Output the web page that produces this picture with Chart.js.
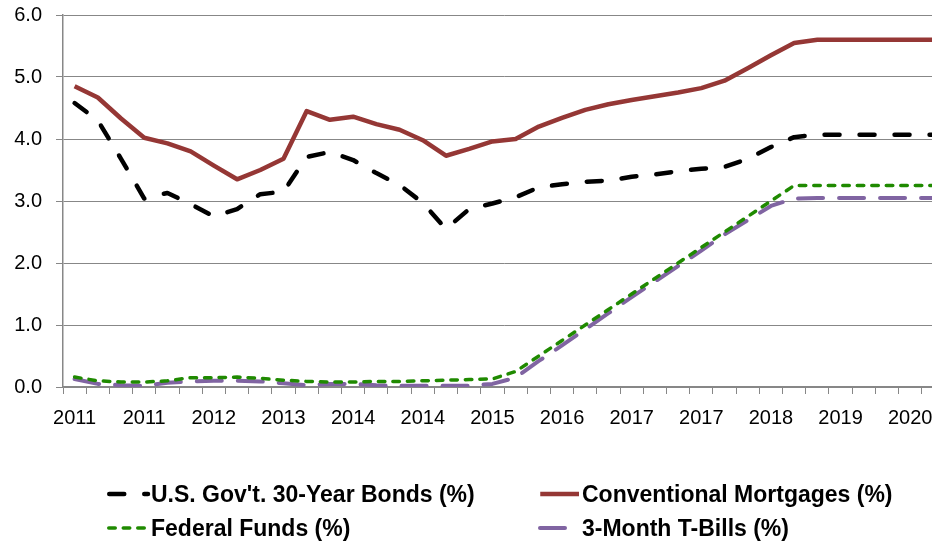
<!DOCTYPE html>
<html lang="en">
  <head>
    <meta charset="UTF-8" />
    <title>Interest Rate Outlook</title>
    <script src="https://cdn.jsdelivr.net/npm/chart.js"></script>
    <style>
      body {
        margin: 0;
        background: #fff;
      }
      .wrap {
        width: 932px;
        height: 546px;
        overflow: hidden;
      }
      canvas {
        display: block;
      }
    </style>
  </head>

  <body>
    <div class="wrap">
      <canvas id="ratesChart" width="946" height="546"></canvas>
    </div>
    <script>
      // one entry per quarter, 2011 Q1 .. 2020 Q2
      const quarters = [
        "2011", "2011", "2011", "2011",
        "2012", "2012", "2012", "2012",
        "2013", "2013", "2013", "2013",
        "2014", "2014", "2014", "2014",
        "2015", "2015", "2015", "2015",
        "2016", "2016", "2016", "2016",
        "2017", "2017", "2017", "2017",
        "2018", "2018", "2018", "2018",
        "2019", "2019", "2019", "2019",
        "2020", "2020",
      ];

      const bonds30y = [
        4.58, 4.30, 3.68, 3.04, 3.13, 2.95, 2.75, 2.87, 3.11, 3.15,
        3.71, 3.79, 3.66, 3.45, 3.26, 2.97, 2.55, 2.87, 2.96, 3.06,
        3.22, 3.27, 3.31, 3.33, 3.39, 3.43, 3.48, 3.52, 3.55, 3.68,
        3.87, 4.03, 4.07, 4.07, 4.07, 4.07, 4.07, 4.07,
      ];
      const mortgages = [
        4.85, 4.67, 4.33, 4.02, 3.93, 3.80, 3.57, 3.35, 3.50, 3.68,
        4.45, 4.31, 4.36, 4.24, 4.15, 3.98, 3.73, 3.84, 3.96, 4.00,
        4.20, 4.34, 4.47, 4.56, 4.63, 4.69, 4.75, 4.82, 4.94, 5.14,
        5.35, 5.55, 5.60, 5.60, 5.60, 5.60, 5.60, 5.60,
      ];
      const fedFunds = [
        0.16, 0.10, 0.08, 0.08, 0.10, 0.15, 0.15, 0.16, 0.14, 0.11,
        0.09, 0.08, 0.08, 0.09, 0.09, 0.10, 0.11, 0.12, 0.13, 0.25,
        0.50, 0.75, 1.00, 1.25, 1.50, 1.75, 2.00, 2.25, 2.50, 2.75,
        3.00, 3.25, 3.25, 3.25, 3.25, 3.25, 3.25, 3.25,
      ];
      const tBills3m = [
        0.13, 0.05, 0.03, 0.02, 0.07, 0.09, 0.10, 0.10, 0.09, 0.06,
        0.03, 0.05, 0.05, 0.03, 0.02, 0.02, 0.02, 0.02, 0.05, 0.15,
        0.42, 0.67, 0.93, 1.19, 1.45, 1.70, 1.95, 2.20, 2.46, 2.69,
        2.92, 3.04, 3.05, 3.05, 3.05, 3.05, 3.05, 3.05,
      ];

      const FONT = "'Liberation Sans', Arial, sans-serif";
      const AXIS_GREY = "#878787";

      // two-column legend under the plot, drawn straight from the datasets
      const gridLegend = {
        id: "gridLegend",
        afterDraw(chart, args, opts) {
          const ctx = chart.ctx;
          ctx.save();
          chart.data.datasets.forEach((ds, i) => {
            const col = i % 2;
            const row = Math.floor(i / 2);
            const x = opts.cols[col];
            const y = opts.rows[row];

            ctx.beginPath();
            ctx.strokeStyle = ds.borderColor;
            ctx.lineWidth = ds.borderWidth;
            ctx.lineCap = ds.borderCapStyle || "butt";
            ctx.setLineDash(ds.borderDash || []);
            ctx.moveTo(x + ds.borderWidth / 2, y);
            ctx.lineTo(x + opts.sample, y);
            ctx.stroke();

            ctx.setLineDash([]);
            ctx.fillStyle = "#000";
            ctx.font = "bold 23px " + FONT;
            ctx.textBaseline = "alphabetic";
            ctx.textAlign = "left";
            ctx.fillText(ds.label, x + opts.sample + opts.gap, y + 8);
          });
          ctx.restore();
        },
      };

      const ctx = document.getElementById("ratesChart").getContext("2d");

      new Chart(ctx, {
        type: "line",
        data: {
          labels: quarters,
          datasets: [
            {
              label: "U.S. Gov't. 30-Year Bonds (%)",
              data: bonds30y,
              borderColor: "#000000",
              borderWidth: 4.5,
              borderDash: [15, 20],
              borderCapStyle: "round",
            },
            {
              label: "Conventional Mortgages (%)",
              data: mortgages,
              borderColor: "#953735",
              borderWidth: 4.5,
              borderCapStyle: "butt",
            },
            {
              label: "Federal Funds (%)",
              data: fedFunds,
              borderColor: "#1f8a00",
              borderWidth: 3.5,
              borderDash: [6.5, 8],
              borderCapStyle: "round",
            },
            {
              label: "3-Month T-Bills (%)",
              data: tBills3m,
              borderColor: "#8064a2",
              borderWidth: 4,
              borderDash: [25, 16],
              borderCapStyle: "round",
            },
          ],
        },
        options: {
          responsive: false,
          animation: false,
          layout: {
            padding: { top: 15, right: 1, bottom: 0, left: 0 },
          },
          elements: {
            point: { radius: 0 },
            line: { tension: 0, borderJoinStyle: "round" },
          },
          plugins: {
            legend: { display: false },
            tooltip: { enabled: false },
            gridLegend: {
              cols: [107, 538],
              rows: [494, 528],
              sample: 41,
              gap: 3,
            },
          },
          scales: {
            x: {
              offset: true,
              afterFit: (scale) => {
                scale.height = 159;
              },
              grid: {
                offset: true,
                drawOnChartArea: false,
                drawTicks: true,
                tickLength: 7,
                color: AXIS_GREY,
              },
              border: { color: AXIS_GREY, width: 1.5 },
              ticks: {
                autoSkip: false,
                maxRotation: 0,
                padding: 12,
                color: "#000",
                font: { family: FONT, size: 20 },
                callback: function (val, i) {
                  return i % 3 === 0 ? this.getLabelForValue(val) : "";
                },
              },
            },
            y: {
              min: 0,
              max: 6,
              afterFit: (scale) => {
                scale.width = 63;
                scale.paddingTop = 0;
                scale.paddingBottom = 0;
              },
              grid: {
                color: AXIS_GREY,
                tickLength: 7,
              },
              border: { color: AXIS_GREY, width: 1.5 },
              ticks: {
                stepSize: 1,
                padding: 14,
                color: "#000",
                font: { family: FONT, size: 20 },
                callback: (v) => v.toFixed(1),
              },
            },
          },
        },
        plugins: [gridLegend],
      });
    </script>
  </body>
</html>
